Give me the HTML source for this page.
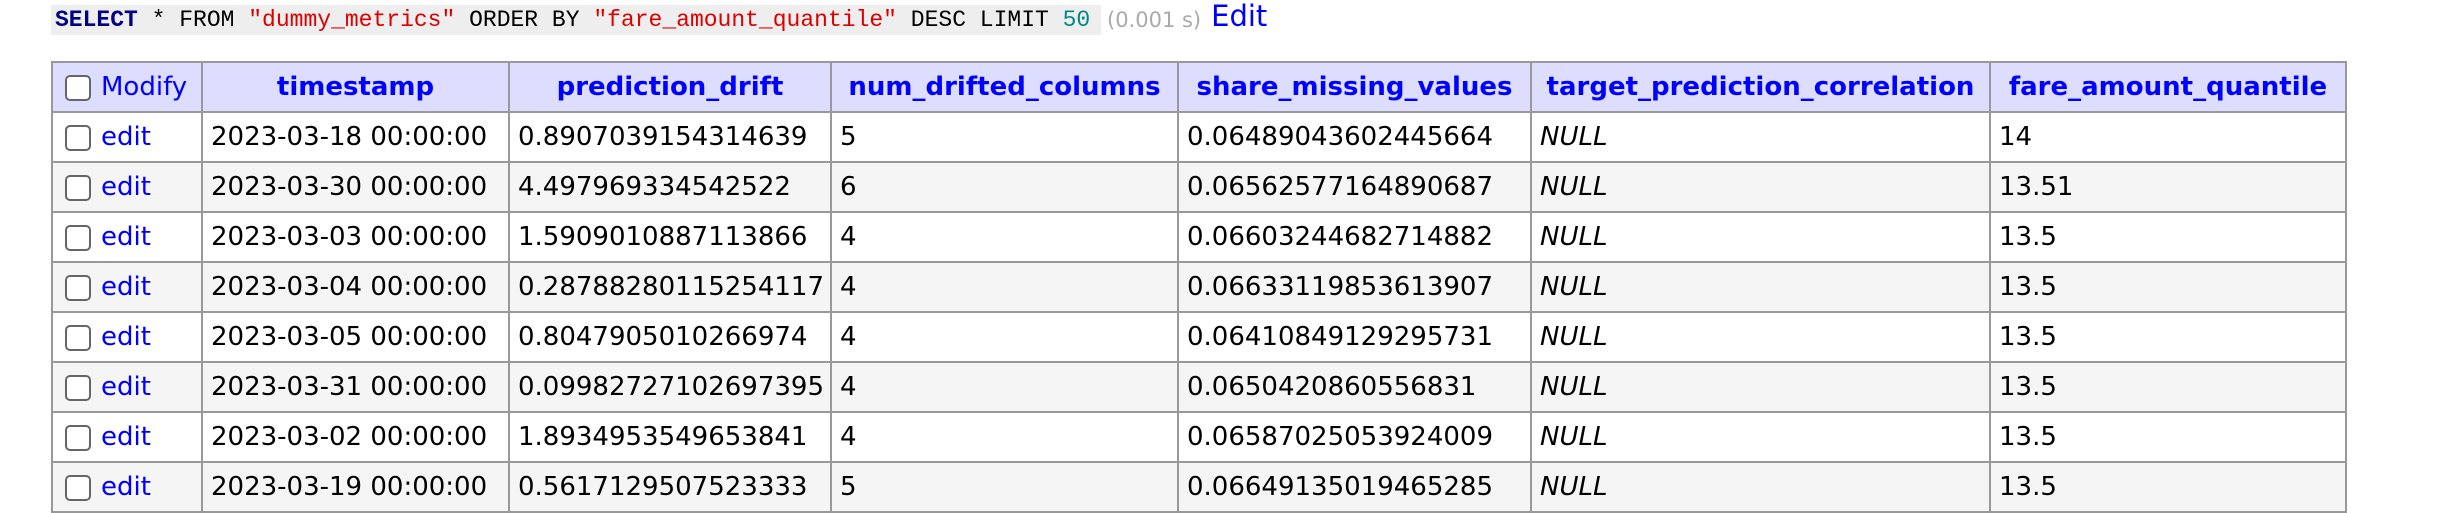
<!DOCTYPE html>
<html><head><meta charset="utf-8"><style>
body{margin:0;width:2438px;height:502px;overflow:hidden;background:#fff;font-family:"DejaVu Sans","Liberation Sans",sans-serif;}
.q{position:absolute;left:51px;top:5px;height:30px;display:flex;align-items:center;white-space:nowrap}
code{background:#eee;font-family:"Liberation Mono",monospace;font-size:23px;padding:0 0 0 4px;height:30px;line-height:30px;width:1046px;display:inline-block;color:#000;white-space:nowrap;overflow:hidden}
.kw{color:#000080;font-weight:bold}.st{color:#d00}.nm{color:#088}
.tm{color:#aaa;font-size:21px;margin-left:6px}
.ed{color:#00f;font-size:29px;margin-left:10px;position:relative;top:-4px}
table{position:absolute;left:51px;top:61px;border-collapse:collapse;table-layout:fixed;width:2294px;font-size:26px;}
td,th{border:2px solid #999;height:48px;padding:0 8px;white-space:nowrap;overflow:hidden;text-align:left}
th{background:#ddf;color:#00f;font-weight:bold;text-align:center}
tr:nth-child(odd) td{background:#f5f5f5}
.cb{display:inline-block;width:22px;height:22px;border:2px solid #666;border-radius:5px;vertical-align:middle;margin:0 10px 0 4px;background:#fff}
a{color:#00f;text-decoration:none}
i{font-style:italic}
</style></head><body>
<div class="q"><code><span class="kw">SELECT</span> * FROM <span class="st">"dummy_metrics"</span> ORDER BY <span class="st">"fare_amount_quantile"</span> DESC LIMIT <span class="nm">50</span></code><span class="tm">(0.001 s)</span><a class="ed" href="#">Edit</a></div>
<table>
<colgroup><col style="width:150px"><col style="width:307px"><col style="width:322px"><col style="width:347px"><col style="width:353px"><col style="width:459px"><col style="width:356px"></colgroup>
<tr><th style="text-align:left;font-weight:normal"><span class="cb"></span><a href="#">Modify</a></th><th>timestamp</th><th>prediction_drift</th><th>num_drifted_columns</th><th>share_missing_values</th><th>target_prediction_correlation</th><th>fare_amount_quantile</th></tr>
<tr><td><span class="cb"></span><a href="#">edit</a></td><td>2023-03-18 00:00:00</td><td>0.8907039154314639</td><td>5</td><td>0.06489043602445664</td><td><i>NULL</i></td><td>14</td></tr>
<tr><td><span class="cb"></span><a href="#">edit</a></td><td>2023-03-30 00:00:00</td><td>4.497969334542522</td><td>6</td><td>0.06562577164890687</td><td><i>NULL</i></td><td>13.51</td></tr>
<tr><td><span class="cb"></span><a href="#">edit</a></td><td>2023-03-03 00:00:00</td><td>1.5909010887113866</td><td>4</td><td>0.06603244682714882</td><td><i>NULL</i></td><td>13.5</td></tr>
<tr><td><span class="cb"></span><a href="#">edit</a></td><td>2023-03-04 00:00:00</td><td>0.28788280115254117</td><td>4</td><td>0.06633119853613907</td><td><i>NULL</i></td><td>13.5</td></tr>
<tr><td><span class="cb"></span><a href="#">edit</a></td><td>2023-03-05 00:00:00</td><td>0.8047905010266974</td><td>4</td><td>0.06410849129295731</td><td><i>NULL</i></td><td>13.5</td></tr>
<tr><td><span class="cb"></span><a href="#">edit</a></td><td>2023-03-31 00:00:00</td><td>0.09982727102697395</td><td>4</td><td>0.0650420860556831</td><td><i>NULL</i></td><td>13.5</td></tr>
<tr><td><span class="cb"></span><a href="#">edit</a></td><td>2023-03-02 00:00:00</td><td>1.8934953549653841</td><td>4</td><td>0.06587025053924009</td><td><i>NULL</i></td><td>13.5</td></tr>
<tr><td><span class="cb"></span><a href="#">edit</a></td><td>2023-03-19 00:00:00</td><td>0.5617129507523333</td><td>5</td><td>0.06649135019465285</td><td><i>NULL</i></td><td>13.5</td></tr>
</table>
</body></html>
